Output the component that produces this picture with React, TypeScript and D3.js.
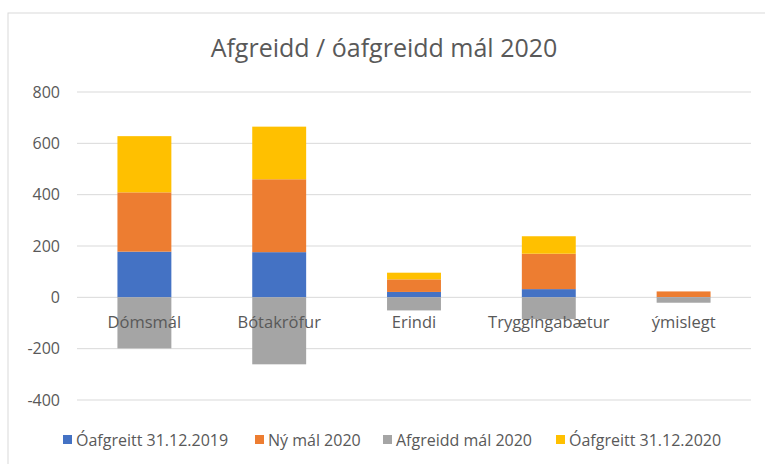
import React from "react";
import * as d3 from "d3";

const categories = ["Dómsmál", "Bótakröfur", "Erindi", "Tryggingabætur", "ýmislegt"];
const seriesNames = ["Óafgreitt 31.12.2019", "Ný mál 2020", "Afgreidd mál 2020", "Óafgreitt 31.12.2020"];
const unresolved2019 = [178, 176, 21, 32, 1];
const newCases2020 = [231, 284, 49, 138, 22];
const resolved2020 = [-199, -261, -51, -85, -21];
const unresolved2020 = [219, 205, 26, 68, 0];
const yTicks = [-400, -200, 0, 200, 400, 600, 800];
const colors = ["#4472C4", "#ED7D31", "#A5A5A5", "#FFC000"];

const W = 765, H = 464;
const font = "'Open Sans', 'Liberation Sans', sans-serif";

export default function App() {
  const x = d3.scaleBand<string>().domain(categories).range([77, 751]).paddingInner(0.6).paddingOuter(0.3);
  const y = d3.scaleLinear().domain([-400, 800]).range([400, 92]);
  const seriesValues = [unresolved2019, newCases2020, resolved2020, unresolved2020];

  const rects: React.ReactNode[] = [];
  categories.forEach((c, i) => {
    let pos = 0;
    let neg = 0;
    seriesValues.forEach((vals, s) => {
      const v = vals[i];
      if (v === 0) return;
      let y0, y1;
      if (v >= 0) { y0 = pos; y1 = pos + v; pos = y1; }
      else { y0 = neg + v; y1 = neg; neg = y0; }
      rects.push(
        <rect key={c + s} x={x(c)} width={x.bandwidth()} y={y(y1)} height={y(y0) - y(y1)} fill={colors[s]} />
      );
    });
  });

  const legendX = [63, 255, 383, 556];

  return (
    <svg width={W} height={H} style={{ position: "absolute", left: 0, top: 0 }}>
      <rect x={0} y={0} width={W} height={H} fill="#fff" />
      <rect x={8} y={13} width={W} height={H} fill="none" stroke="#d9d9d9" strokeWidth={1} />
      <text x={384} y={57} textAnchor="middle" fontFamily={font} fontSize={25} fill="#595959">
        Afgreidd / óafgreidd mál 2020
      </text>
      {yTicks.map(t => (
        <g key={t}>
          <line x1={77} x2={751} y1={y(t)} y2={y(t)} stroke="#d9d9d9" strokeWidth={1} />
          <text x={60} y={y(t)} dy="0.35em" textAnchor="end" fontFamily={font} fontSize={16} fill="#595959">{t}</text>
        </g>
      ))}
      {rects}
      {categories.map(c => (
        <text key={c} x={(x(c) as number) + x.bandwidth() / 2} y={322} dy="0.35em" textAnchor="middle" fontFamily={font} fontSize={16.5} fill="#595959">{c}</text>
      ))}
      {seriesNames.map((n, i) => (
        <g key={n}>
          <rect x={legendX[i]} y={435} width={9} height={9} fill={colors[i]} />
          <text x={legendX[i] + 13} y={440} dy="0.35em" fontFamily={font} fontSize={16} fill="#595959">{n}</text>
        </g>
      ))}
    </svg>
  );
}
